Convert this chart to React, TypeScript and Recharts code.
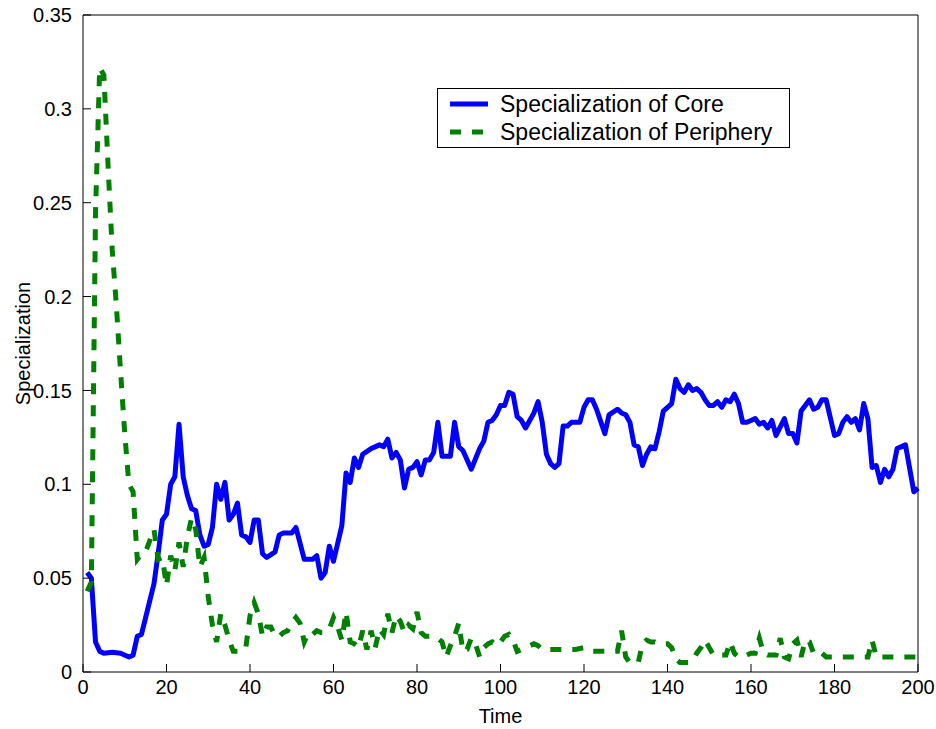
import React from "react"
import { LineChart, Line, XAxis, YAxis, Legend } from "recharts"

// Core specialization over time
const coreTime = [
  1, 2, 3, 4, 5, 7, 9, 11, 12, 13,
  14, 15, 17, 18, 19, 20, 21, 22, 23, 24,
  25, 26, 27, 28, 29, 30, 31, 32, 33, 34,
  35, 36, 37, 38, 39, 40, 41, 42, 43, 44,
  46, 47, 48, 50, 51, 53, 55, 56, 57, 58,
  59, 60, 62, 63, 64, 65, 66, 67, 69, 71,
  72, 73, 74, 75, 76, 77, 78, 79, 80, 81,
  82, 83, 84, 85, 86, 88, 89, 90, 91, 93,
  95, 96, 97, 98, 99, 100, 101, 102, 103, 104,
  105, 106, 107, 108, 109, 110, 111, 112, 113, 114,
  115, 116, 117, 119, 120, 121, 122, 123, 125, 126,
  128, 129, 130, 131, 132, 133, 134, 135, 136, 137,
  138, 139, 140, 141, 142, 143, 144, 145, 146, 147,
  148, 149, 150, 151, 152, 153, 154, 155, 156, 157,
  158, 159, 160, 161, 162, 163, 164, 165, 166, 168,
  169, 170, 171, 172, 173, 174, 175, 176, 177, 178,
  180, 181, 182, 183, 184, 185, 186, 187, 188, 189,
  190, 191, 192, 193, 194, 195, 197, 199, 200,
]
const coreSpec = [
  0.053, 0.05, 0.016, 0.011, 0.01, 0.0105, 0.01, 0.008, 0.009, 0.019,
  0.02, 0.029, 0.047, 0.063, 0.081, 0.084, 0.1, 0.104, 0.132, 0.104,
  0.094, 0.087, 0.086, 0.073, 0.067, 0.068, 0.077, 0.1, 0.092, 0.101,
  0.081, 0.084, 0.09, 0.073, 0.072, 0.069, 0.081, 0.081, 0.063, 0.061,
  0.064, 0.073, 0.074, 0.074, 0.077, 0.06, 0.06, 0.062, 0.05, 0.053,
  0.067, 0.059, 0.078, 0.106, 0.101, 0.114, 0.109, 0.116, 0.119, 0.121,
  0.12, 0.124, 0.114, 0.117, 0.113, 0.098, 0.108, 0.109, 0.112, 0.105,
  0.113, 0.113, 0.117, 0.133, 0.115, 0.115, 0.133, 0.12, 0.118, 0.108,
  0.119, 0.123, 0.133, 0.134, 0.137, 0.142, 0.142, 0.149, 0.148, 0.136,
  0.134, 0.13, 0.134, 0.138, 0.144, 0.133, 0.116, 0.111, 0.109, 0.111,
  0.131, 0.131, 0.133, 0.133, 0.141, 0.145, 0.145, 0.14, 0.127, 0.137,
  0.14, 0.138, 0.137, 0.133, 0.121, 0.12, 0.11, 0.116, 0.12, 0.119,
  0.128, 0.139, 0.141, 0.143, 0.156, 0.151, 0.149, 0.153, 0.15, 0.151,
  0.149, 0.145, 0.142, 0.142, 0.144, 0.141, 0.145, 0.144, 0.148, 0.143,
  0.133, 0.133, 0.134, 0.135, 0.132, 0.133, 0.13, 0.134, 0.126, 0.135,
  0.127, 0.127, 0.122, 0.139, 0.142, 0.145, 0.14, 0.141, 0.145, 0.145,
  0.126, 0.127, 0.133, 0.136, 0.133, 0.135, 0.129, 0.143, 0.135, 0.109,
  0.11, 0.101, 0.108, 0.104, 0.108, 0.119, 0.121, 0.096, 0.098,
]

// Periphery specialization over time
const peripheryTime = [
  1, 2, 3, 4, 5, 6, 7, 8, 9, 10,
  11, 12, 13, 14, 15, 16, 17, 18, 19, 20,
  21, 22, 23, 24, 25, 26, 27, 28, 29, 30,
  31, 32, 33, 34, 35, 36, 37, 38, 39, 40,
  41, 42, 43, 44, 45, 46, 47, 48, 49, 50,
  51, 52, 53, 54, 55, 56, 57, 58, 59, 60,
  61, 62, 63, 64, 65, 66, 67, 68, 69, 70,
  71, 72, 73, 74, 75, 76, 77, 78, 79, 80,
  81, 82, 83, 84, 85, 86, 87, 88, 89, 90,
  91, 92, 93, 94, 95, 96, 97, 98, 99, 100,
  101, 102, 103, 104, 105, 106, 107, 108, 109, 110,
  112, 114, 116, 118, 120, 121, 122, 124, 126, 128,
  129, 130, 131, 132, 133, 134, 135, 136, 137, 138,
  139, 140, 141, 142, 143, 144, 145, 146, 147, 148,
  149, 150, 151, 152, 153, 154, 155, 156, 157, 158,
  159, 160, 161, 162, 163, 164, 165, 166, 167, 168,
  169, 170, 171, 172, 173, 174, 175, 176, 177, 178,
  180, 182, 184, 186, 188, 189, 190, 192, 195, 198, 200,
]
const peripherySpec = [
  0.043, 0.048, 0.245, 0.322, 0.318, 0.27, 0.225, 0.195, 0.16, 0.127,
  0.1, 0.096, 0.06, 0.063, 0.064, 0.07, 0.076, 0.06, 0.061, 0.046,
  0.062, 0.054, 0.069, 0.056, 0.072, 0.082, 0.076, 0.056, 0.061, 0.04,
  0.025, 0.016, 0.031, 0.025, 0.017, 0.011, 0.011, 0.011, 0.013, 0.03,
  0.037, 0.031, 0.019, 0.024, 0.024, 0.019, 0.019, 0.021, 0.022, 0.026,
  0.029, 0.026, 0.016, 0.021, 0.02, 0.022, 0.021, 0.021, 0.023, 0.029,
  0.024, 0.017, 0.032, 0.016, 0.015, 0.013, 0.022, 0.012, 0.022, 0.013,
  0.023, 0.02, 0.031, 0.021, 0.03, 0.027, 0.021, 0.025, 0.023, 0.032,
  0.021, 0.019, 0.019, 0.019, 0.018, 0.016, 0.008, 0.014, 0.019, 0.026,
  0.011, 0.012, 0.018, 0.015, 0.008, 0.013, 0.015, 0.016, 0.014, 0.016,
  0.019, 0.02, 0.017, 0.011, 0.012, 0.013, 0.014, 0.015, 0.014, 0.012,
  0.012, 0.012, 0.012, 0.012, 0.013, 0.012, 0.011, 0.011, 0.011, 0.011,
  0.022, 0.008, 0.005, 0.005, 0.005, 0.015, 0.017, 0.016, 0.016, 0.015,
  0.015, 0.015, 0.013, 0.007, 0.005, 0.005, 0.005, 0.006, 0.01, 0.013,
  0.017, 0.013, 0.009, 0.009, 0.009, 0.009, 0.016, 0.01, 0.008, 0.009,
  0.009, 0.01, 0.01, 0.018, 0.01, 0.009, 0.009, 0.009, 0.018, 0.008,
  0.007, 0.015, 0.017, 0.008, 0.017, 0.016, 0.01, 0.011, 0.01, 0.008,
  0.008, 0.008, 0.008, 0.008, 0.008, 0.017, 0.008, 0.008, 0.008, 0.008, 0.008,
]

const xTicks = [0, 20, 40, 60, 80, 100, 120, 140, 160, 180, 200]
const yTicks = [0, 0.05, 0.1, 0.15, 0.2, 0.25, 0.3, 0.35]

const FONT = '"Liberation Sans", Arial, Helvetica, sans-serif'

const series = [
  { key: "core", name: "Specialization of Core", color: "#0000ff", dash: undefined as string | undefined },
  { key: "periphery", name: "Specialization of Periphery", color: "#008000", dash: "11 11" },
]

const coreData = coreTime.map((t, i) => ({ time: t, value: coreSpec[i] }))
const peripheryData = peripheryTime.map((t, i) => ({ time: t, value: peripherySpec[i] }))

const tickStyle = { fontSize: 20, fontFamily: FONT, fill: "#000" }

// boxed legend in the upper middle of the axes
const BoxLegend = () => (
  <div
    style={{
      width: 351,
      height: 58,
      border: "1px solid #000",
      background: "#fff",
      position: "relative",
      fontFamily: FONT,
      fontSize: 23,
      color: "#000",
    }}
  >
    {series.map((s, i) => (
      <div
        key={s.key}
        style={{
          position: "absolute",
          left: 12,
          top: 3 + i * 28,
          height: 24,
          display: "flex",
          alignItems: "center",
          whiteSpace: "nowrap",
        }}
      >
        <svg width={38} height={24} style={{ display: "block" }}>
          <line x1={0} x2={38} y1={12} y2={12} stroke={s.color} strokeWidth={5} strokeDasharray={s.dash} />
        </svg>
        <span style={{ marginLeft: 12, lineHeight: "24px" }}>{s.name}</span>
      </div>
    ))}
  </div>
)

const YTitle = ({ viewBox }: any) => {
  const cx = viewBox.x + 10
  const cy = viewBox.y + viewBox.height / 2
  return (
    <text
      x={cx}
      y={cy}
      transform={`rotate(-90 ${cx} ${cy})`}
      textAnchor="middle"
      dominantBaseline="central"
      fontSize={20}
      fontFamily={FONT}
      fill="#000"
    >
      Specialization
    </text>
  )
}

const XTitle = ({ viewBox }: any) => {
  const cx = viewBox.x + viewBox.width / 2
  const cy = viewBox.y + 44
  return (
    <text x={cx} y={cy} textAnchor="middle" dominantBaseline="central" fontSize={20} fontFamily={FONT} fill="#000">
      Time
    </text>
  )
}

export default function App() {
  return (
    <div style={{ position: "absolute", left: 0, top: 0, width: 936, height: 729, background: "#fff" }}>
      <LineChart width={936} height={729} margin={{ top: 5, right: 8, bottom: 27, left: 13 }}>
        <XAxis
          dataKey="time"
          type="number"
          domain={[0, 200]}
          ticks={xTicks}
          height={30}
          tickSize={-8}
          tickMargin={16}
          tick={tickStyle}
          stroke="#000"
          label={<XTitle />}
        />
        <XAxis
          xAxisId="top"
          orientation="top"
          type="number"
          domain={[0, 200]}
          ticks={xTicks}
          height={10}
          tickSize={-8}
          tick={false}
          stroke="#000"
        />
        <YAxis
          type="number"
          domain={[0, 0.35]}
          ticks={yTicks}
          width={70}
          tickSize={-8}
          tickMargin={19}
          tick={tickStyle}
          stroke="#000"
          label={<YTitle />}
        />
        <YAxis
          yAxisId="right"
          orientation="right"
          type="number"
          domain={[0, 0.35]}
          ticks={yTicks}
          width={10}
          tickSize={-8}
          tick={false}
          stroke="#000"
        />
        <Legend
          layout="vertical"
          align="center"
          verticalAlign="middle"
          content={<BoxLegend />}
          wrapperStyle={{ left: 437, top: 88, width: 353, height: 60 }}
        />
        <Line
          data={coreData}
          dataKey="value"
          name={series[0].name}
          stroke={series[0].color}
          strokeWidth={5}
          strokeLinejoin="round"
          dot={false}
          activeDot={false}
          isAnimationActive={false}
        />
        <Line
          data={peripheryData}
          dataKey="value"
          name={series[1].name}
          stroke={series[1].color}
          strokeWidth={5}
          strokeDasharray={series[1].dash}
          dot={false}
          activeDot={false}
          isAnimationActive={false}
        />
      </LineChart>
    </div>
  )
}
